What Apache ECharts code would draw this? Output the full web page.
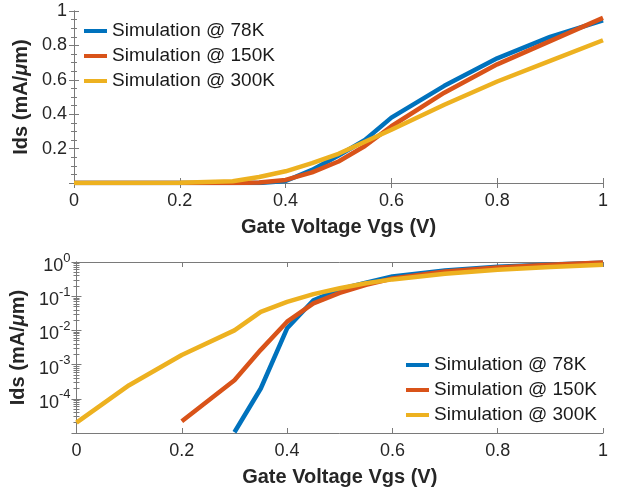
<!DOCTYPE html>
<html>
<head>
<meta charset="utf-8">
<script src="https://cdn.jsdelivr.net/npm/echarts@6/dist/echarts.min.js"></script>
<style>
html, body { margin: 0; padding: 0; background: #fff; }
#chart { width: 618px; height: 498px; }
</style>
</head>
<body>
<div id="chart"></div>
<script>
// gate voltage sweep (V)
const vgs = [0, 0.1, 0.2, 0.3, 0.35, 0.4, 0.45, 0.5, 0.55, 0.6, 0.7, 0.8, 0.9, 1.0]
// drain current, mA/um (0 = below the log range, not drawn there)
const ids78K = [0, 0, 0, 1.05e-5, 2.0e-4, 1.15e-2, 0.076, 0.16, 0.25, 0.38, 0.565, 0.725, 0.85, 0.945]
const ids150K = [0, 0, 2.2e-5, 3.5e-4, 2.7e-3, 1.8e-2, 0.062, 0.125, 0.215, 0.33, 0.525, 0.69, 0.825, 0.96]
const ids300K = [2e-5, 2.5e-4, 1.9e-3, 1.0e-2, 3.5e-2, 0.068, 0.115, 0.17, 0.24, 0.31, 0.455, 0.59, 0.71, 0.83]

const names = ['Simulation @ 78K', 'Simulation @ 150K', 'Simulation @ 300K']
const colors = ['#0072BD', '#D95319', '#EDB120']
const xTicks = [0, 0.2, 0.4, 0.6, 0.8, 1]
const linTicks = [0.2, 0.4, 0.6, 0.8, 1]
const logDecades = [-5, -4, -3, -2, -1, 0]

const FONT = '"Liberation Sans", Arial, Helvetica, sans-serif'
const AXIS_COLOR = '#7a7a7a'
const TEXT_COLOR = '#262626'

function toPairs (ys, logScale) {
  return vgs.map((x, i) => [x, (logScale && ys[i] <= 0) ? null : ys[i]])
}

function xAxes (gridIndex) {
  const base = {
    gridIndex: gridIndex,
    type: 'value',
    min: 0,
    max: 1,
    interval: 0.2,
    axisLine: { show: true, lineStyle: { color: AXIS_COLOR, width: 1 } },
    axisTick: { show: true, inside: true, length: 5, lineStyle: { color: AXIS_COLOR } },
    splitLine: { show: false }
  }
  return [
    Object.assign({}, base, {
      position: 'bottom',
      axisLabel: {
        margin: 9,
        fontSize: 18,
        fontFamily: FONT,
        color: TEXT_COLOR,
        formatter: v => xTicks.indexOf(Math.round(v * 10) / 10) > -1 ? String(Math.round(v * 10) / 10) : ''
      },
      name: 'Gate Voltage Vgs (V)',
      nameLocation: 'middle',
      nameGap: 34,
      nameTextStyle: { fontSize: 20, fontWeight: 'bold', fontFamily: FONT, color: TEXT_COLOR }
    }),
    Object.assign({}, base, { position: 'top', axisLabel: { show: false } })
  ]
}

const yName = {
  name: 'Ids (mA/{mu|μ}m)',
  nameLocation: 'middle',
  nameRotate: 90,
  nameGap: 39,
  nameTextStyle: {
    fontSize: 20, fontWeight: 'bold', fontFamily: FONT, color: TEXT_COLOR,
    rich: { mu: { fontSize: 20, fontStyle: 'italic', fontWeight: 'bold', fontFamily: FONT, color: TEXT_COLOR } }
  }
}

function linYAxes () {
  const base = {
    gridIndex: 0,
    type: 'value',
    min: 0,
    max: 1,
    interval: 0.2,
    axisLine: { show: true, lineStyle: { color: AXIS_COLOR, width: 1 } },
    axisTick: { show: true, inside: true, length: 5, lineStyle: { color: AXIS_COLOR } },
    minorTick: { show: true, splitNumber: 4, length: 3, lineStyle: { color: AXIS_COLOR } },
    splitLine: { show: false }
  }
  return [
    Object.assign({}, base, yName, {
      position: 'left',
      axisLabel: {
        margin: 7,
        fontSize: 18,
        fontFamily: FONT,
        color: TEXT_COLOR,
        formatter: v => {
          const r = Math.round(v * 10) / 10
          return linTicks.indexOf(r) > -1 ? String(r) : ''
        }
      }
    }),
    Object.assign({}, base, { position: 'right', axisLabel: { show: false } })
  ]
}

function logYAxes () {
  const base = {
    gridIndex: 1,
    type: 'log',
    logBase: 10,
    min: 1e-5,
    max: 1,
    axisLine: { show: true, lineStyle: { color: AXIS_COLOR, width: 1 } },
    axisTick: { show: true, inside: true, length: 5, lineStyle: { color: AXIS_COLOR } },
    minorTick: { show: true, splitNumber: 9, length: 3, lineStyle: { color: AXIS_COLOR } },
    splitLine: { show: false }
  }
  return [
    Object.assign({}, base, yName, {
      position: 'left',
      axisLabel: {
        margin: 6,
        fontSize: 18,
        fontFamily: FONT,
        color: TEXT_COLOR,
        formatter: v => {
          const e = Math.round(Math.log10(v))
          if (e === logDecades[0]) return ''
          return '{base|10}{sup|' + e + '}'
        },
        rich: {
          base: { fontSize: 18, fontFamily: FONT, color: TEXT_COLOR, padding: [8, 0, 0, 0] },
          sup: { fontSize: 13, fontFamily: FONT, color: TEXT_COLOR, padding: [0, 0, 8, 0] }
        }
      }
    }),
    Object.assign({}, base, { position: 'right', axisLabel: { show: false } })
  ]
}

function makeSeries (ys, i, gridIdx) {
  return {
    name: names[i],
    type: 'line',
    xAxisIndex: gridIdx * 2,
    yAxisIndex: gridIdx * 2,
    data: toPairs(ys, gridIdx === 1),
    showSymbol: false,
    symbol: 'none',
    clip: true,
    lineStyle: { width: 4.5, color: colors[i] },
    itemStyle: { color: colors[i] }
  }
}

const legendBase = {
  orient: 'vertical',
  data: names,
  icon: 'rect',
  itemWidth: 23,
  itemHeight: 4,
  itemGap: 5,
  padding: 0,
  selectedMode: false,
  textStyle: { fontSize: 19, fontFamily: FONT, color: '#1a1a1a', lineHeight: 20 }
}

const chart = echarts.init(document.getElementById('chart'))
chart.setOption({
  animation: false,
  backgroundColor: '#fff',
  grid: [
    { left: 74, top: 11, width: 529, height: 172 },
    { left: 74, top: 262, width: 529, height: 171 }
  ],
  legend: [
    Object.assign({}, legendBase, { left: 84, top: 21 }),
    Object.assign({}, legendBase, { left: 406, top: 355 })
  ],
  xAxis: xAxes(0).concat(xAxes(1)),
  yAxis: linYAxes().concat(logYAxes()),
  series: [
    makeSeries(ids78K, 0, 0),
    makeSeries(ids150K, 1, 0),
    makeSeries(ids300K, 2, 0),
    makeSeries(ids78K, 0, 1),
    makeSeries(ids150K, 1, 1),
    makeSeries(ids300K, 2, 1)
  ]
})
</script>
</body>
</html>
